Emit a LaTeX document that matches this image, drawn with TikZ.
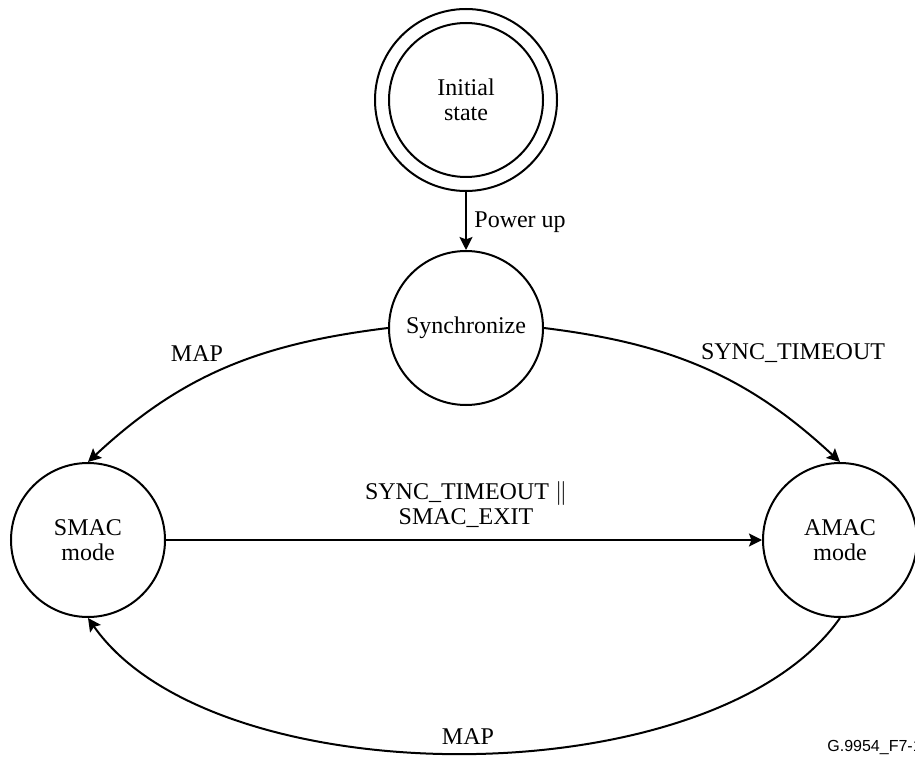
\documentclass[tikz,border=0pt]{standalone}
\usepackage{fontspec}
\setmainfont{Liberation Serif}
\newfontfamily\codefont{Liberation Sans}
\usetikzlibrary{arrows.meta}
\tikzset{
  state/.style={circle, draw, line width=1pt, minimum size=77pt, inner sep=0pt,
    align=center, font=\fontsize{12}{12.5}\selectfont},
  ring/.style={circle, draw, line width=1pt, minimum size=91pt, inner sep=0pt},
  trans/.style={line width=1pt, -{Stealth[length=6.5pt,width=6.5pt,inset=1.2pt]}},
  lbl/.style={font=\fontsize{12}{12.5}\selectfont, inner sep=0pt, align=center}
}
\begin{document}
\begin{tikzpicture}[x=0.5pt,y=0.5pt]
  \useasboundingbox (0,0) rectangle (915,756);

  % states
  \node[state] (init) at (466,656) {Initial\\state};
  \node[ring] (initring) at (init) {};
  \node[state] (sync) at (466,428) {Synchronize};
  \node[state] (smac) at (88,216) {SMAC\\mode};
  \node[state] (amac) at (840,216) {AMAC\\mode};

  % transitions
  \draw[trans] (initring.south) -- (sync.north);
  \draw[trans] (sync.west) to[out=187,in=43] (smac.north);
  \draw[trans] (sync.east) to[out=-7,in=137] (amac.north);
  \draw[trans] (smac.east) -- (amac.west);
  \draw[trans] (amac.south) to[out=-125,in=-55,looseness=0.75] (smac.south);

  % labels
  \node[lbl, anchor=west] (lblpower) at (474,534) {Power up};
  \node[lbl] (lblmaptop) at (197,402) {MAP};
  \node[lbl] (lbltimeout) at (793,403) {SYNC\_TIMEOUT};
  \node[lbl] (lblexit) at (466,251) {SYNC\_TIMEOUT $\|$\\SMAC\_EXIT};
  \node[lbl] (lblmapbot) at (468,19) {MAP};
  \node[anchor=base west, inner sep=0pt, font=\codefont\fontsize{8}{9}\selectfont]
    (figid) at (827,5) {G.9954\_F7-1};
\end{tikzpicture}
\end{document}
